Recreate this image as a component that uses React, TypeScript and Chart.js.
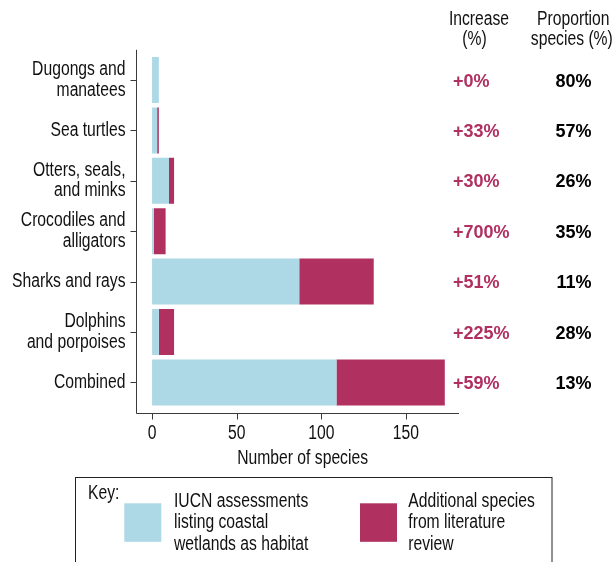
import React, { useEffect, useRef } from "react";
import { Chart, registerables } from "chart.js";

Chart.register(...registerables);

// ---------- data ----------
const categories: string[][] = [
  ["Dugongs and", "manatees"],
  ["Sea turtles"],
  ["Otters, seals,", "and minks"],
  ["Crocodiles and", "alligators"],
  ["Sharks and rays"],
  ["Dolphins", "and porpoises"],
  ["Combined"],
];
const iucnCounts = [4, 3, 10, 1, 87, 4, 109];
const additionalCounts = [0, 1, 3, 7, 44, 9, 64];
const increaseLabels = ["+0%", "+33%", "+30%", "+700%", "+51%", "+225%", "+59%"];
const proportionLabels = ["80%", "57%", "26%", "35%", "11%", "28%", "13%"];
const xTickValues = [0, 50, 100, 150];
const seriesNames = [
  "IUCN assessments listing coastal wetlands as habitat",
  "Additional species from literature review",
];
const legendLines = [
  ["IUCN assessments", "listing coastal", "wetlands as habitat"],
  ["Additional species", "from literature", "review"],
];
const xTitle = "Number of species";
const headerIncrease = ["Increase", "(%)"];
const headerProportion = ["Proportion", "species (%)"];
const keyTitle = "Key:";

// ---------- styles ----------
const BLUE = "#add8e6";
const MAROON = "#b03060";
const TEXT = "#111111";
const AXIS = "#3a3a3a";
const SANS = "'Liberation Sans', Arial, sans-serif";
const NARROW_FONT = `19.5px ${SANS}`;
const SQUEEZE = 0.805;

function narrowText(ctx: CanvasRenderingContext2D, text: string, x: number, y: number, align: CanvasTextAlign) {
  ctx.save();
  ctx.translate(x, y);
  ctx.scale(SQUEEZE, 1);
  ctx.font = NARROW_FONT;
  ctx.textAlign = align;
  ctx.textBaseline = "alphabetic";
  ctx.fillText(text, 0, 0);
  ctx.restore();
}

const overlayPlugin = {
  id: "overlay",
  afterDraw(chart: any) {
    const { ctx, chartArea, scales } = chart;
    const xs = scales.x;
    const ys = scales.y;
    ctx.save();

    // axis lines and tick marks
    ctx.strokeStyle = AXIS;
    ctx.lineWidth = 1;
    const axX = Math.round(chartArea.left) + 0.5;
    const axY = Math.round(chartArea.bottom + 5) + 0.5;
    ctx.beginPath();
    ctx.moveTo(axX, chartArea.top - 5);
    ctx.lineTo(axX, axY);
    ctx.lineTo(chartArea.right, axY);
    xs.ticks.forEach((t: any) => {
      const px = Math.round(xs.getPixelForValue(t.value)) + 0.5;
      ctx.moveTo(px, axY);
      ctx.lineTo(px, axY + 6);
    });
    ys.ticks.forEach((_: any, i: number) => {
      const py = Math.round(ys.getPixelForTick(i)) + 0.5;
      ctx.moveTo(axX - 6, py);
      ctx.lineTo(axX, py);
    });
    ctx.stroke();

    ctx.fillStyle = TEXT;
    // y tick labels
    ys.ticks.forEach((t: any, i: number) => {
      const py = ys.getPixelForTick(i);
      const lines: string[] = Array.isArray(t.label) ? t.label : [String(t.label)];
      const n = lines.length;
      lines.forEach((line, j) => {
        narrowText(ctx, line, 125.5, py + 5.3 + (j - (n - 1) / 2) * 20.5, "right");
      });
    });
    // x tick labels
    xs.ticks.forEach((t: any) => {
      const px = xs.getPixelForValue(t.value);
      narrowText(ctx, String(t.value), px, 438.5, "center");
    });

    // x title
    narrowText(ctx, xTitle, 302.6, 463.5, "center");

    // headers
    narrowText(ctx, headerIncrease[0], 479, 24.5, "center");
    narrowText(ctx, headerIncrease[1], 474.5, 44.5, "center");
    narrowText(ctx, headerProportion[0], 573.3, 24.5, "center");
    narrowText(ctx, headerProportion[1], 571.8, 44.5, "center");

    // values
    ctx.font = `bold 18px ${SANS}`;
    ctx.textBaseline = "alphabetic";
    ys.ticks.forEach((_: any, i: number) => {
      const y = ys.getPixelForTick(i) + 6.6;
      ctx.fillStyle = MAROON;
      ctx.textAlign = "left";
      ctx.fillText(increaseLabels[i], 453, y);
      ctx.fillStyle = "#000";
      ctx.textAlign = "right";
      ctx.fillText(proportionLabels[i], 591.5, y);
    });

    // legend box
    ctx.strokeStyle = "#222";
    ctx.lineWidth = 1;
    ctx.strokeRect(75.5, 477.5, 476.5, 120);
    ctx.fillStyle = TEXT;
    narrowText(ctx, keyTitle, 88, 499.3, "left");
    const swatchX = [124.3, 360];
    const textX = [174, 408.3];
    chart.data.datasets.forEach((ds: any, k: number) => {
      ctx.fillStyle = ds.backgroundColor;
      ctx.fillRect(swatchX[k], 503.3, 37, 38.5);
      ctx.fillStyle = TEXT;
      legendLines[k].forEach((line, j) => {
        narrowText(ctx, line, textX[k], 506.7 + j * 21.7, "left");
      });
    });

    ctx.restore();
  },
};

export default function App() {
  const canvasRef = useRef<HTMLCanvasElement | null>(null);

  useEffect(() => {
    const canvas = canvasRef.current;
    if (!canvas) return;
    const chart = new Chart(canvas, {
      type: "bar",
      data: {
        labels: categories,
        datasets: [
          {
            label: seriesNames[0],
            data: iucnCounts,
            backgroundColor: BLUE,
            borderWidth: 0,
            barPercentage: 0.913,
            categoryPercentage: 1,
          },
          {
            label: seriesNames[1],
            data: additionalCounts,
            backgroundColor: MAROON,
            borderWidth: 0,
            barPercentage: 0.913,
            categoryPercentage: 1,
          },
        ],
      },
      options: {
        indexAxis: "y",
        responsive: false,
        animation: false,
        devicePixelRatio: 1,
        layout: { padding: { top: 54.8, right: 157, bottom: 114.4, left: 0 } },
        plugins: {
          legend: { display: false },
          tooltip: { enabled: false },
          title: { display: false },
        },
        scales: {
          x: {
            type: "linear",
            stacked: true,
            min: -9.5,
            max: 181.4,
            afterBuildTicks: (s: any) => {
              s.ticks = xTickValues.map((v) => ({ value: v }));
            },
            afterFit: (s: any) => {
              s.height = 40;
            },
            grid: { display: false },
            border: { display: false },
            ticks: { display: false, autoSkip: false },
          },
          y: {
            stacked: true,
            afterFit: (s: any) => {
              s.width = 136;
            },
            grid: { display: false },
            border: { display: false },
            ticks: { display: false, autoSkip: false },
          },
        },
      },
      plugins: [overlayPlugin],
    } as any);
    return () => chart.destroy();
  }, []);

  return (
    <div style={{ position: "absolute", left: 0, top: 0, width: 616, height: 562, background: "#fff" }}>
      <canvas ref={canvasRef} width={616} height={562} style={{ display: "block" }} />
    </div>
  );
}
